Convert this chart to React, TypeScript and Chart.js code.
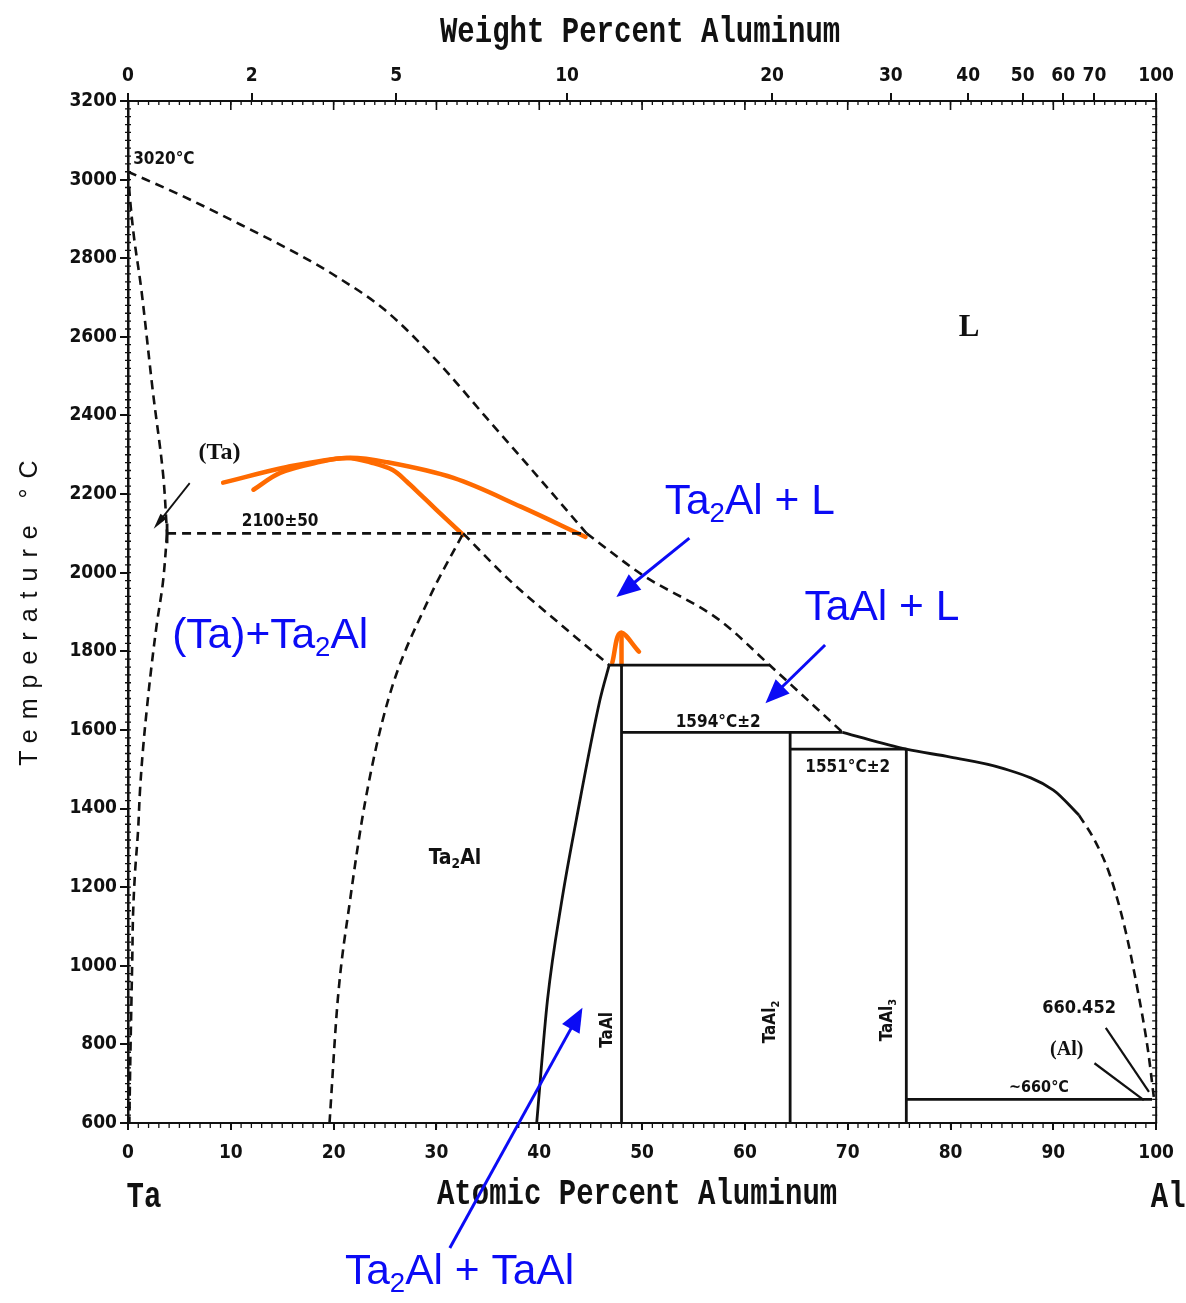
import React, { useEffect, useRef } from "react";
import { Chart, registerables } from "chart.js";

Chart.register(...registerables);

const CANVAS_W = 1186;
const CANVAS_H = 1303;

// ---- axes ----
const AT_MIN = 0;
const AT_MAX = 100;
const AT_STEP = 10;
const T_MIN = 600;
const T_MAX = 3200;
const T_STEP = 200;
const WT_TICKS = [0, 2, 5, 10, 20, 30, 40, 50, 60, 70, 100];
const M_AL = 26.98;
const M_TA = 180.95;
const wtToAt = (w: number) => {
  const nAl = w / M_AL;
  const nTa = (100 - w) / M_TA;
  return (100 * nAl) / (nAl + nTa);
};

type Pt = [number, number];

// ---- phase boundaries: [at.% Al, °C] ----
const TA_SOLIDUS: Pt[] = [[0, 3020], [0.2, 2950], [0.6, 2850], [1.3, 2720], [2.4, 2465], [3.4, 2254], [3.8, 2100]];
const TA_SOLVUS: Pt[] = [[3.8, 2100], [3.4, 1976], [2.8, 1869], [2.3, 1765], [1.85, 1658], [1.46, 1551], [1.17, 1447], [0.97, 1340], [0.68, 1236], [0.49, 1129], [0.42, 1025], [0.34, 918], [0.26, 811], [0.19, 706], [0.13, 600]];
const LIQUIDUS_HIGH: Pt[] = [[0, 3020], [5, 2962], [10, 2898], [16.7, 2808], [20, 2758], [25, 2668], [30, 2540], [35, 2390], [40, 2240], [44.6, 2100]];
const LIQUIDUS_MID: Pt[] = [[44.6, 2100], [50, 1995], [57.5, 1880], [62.4, 1765], [69.5, 1594]];
const LIQUIDUS_AL_SOLID: Pt[] = [[69.5, 1594], [75.7, 1551], [80, 1531], [85, 1503], [90, 1447], [92.5, 1383]];
const LIQUIDUS_AL_DASH: Pt[] = [[92.5, 1383], [94, 1320], [95.5, 1231], [97, 1091], [98.2, 938], [99.2, 786], [99.8, 660]];
const PERITECTIC_2100: Pt[] = [[3.8, 2100], [44.6, 2100]];
const TICK_2100: Pt[] = [[3.8, 2075], [3.8, 2125]];
const TA2AL_LEFT: Pt[] = [[19.6, 600], [20.4, 913], [21.6, 1167], [23.1, 1422], [25.3, 1676], [29.2, 1930], [32.6, 2100]];
const TA2AL_L_LOWER: Pt[] = [[32.6, 2100], [37.1, 1981], [42, 1870], [46.8, 1765]];
const TA2AL_RIGHT: Pt[] = [[39.75, 600], [40.8, 913], [42.2, 1167], [43.6, 1371], [45.9, 1676], [46.8, 1765]];
const PERITECTIC_1765: Pt[] = [[46.8, 1765], [62.4, 1765]];
const TAAL_LINE: Pt[] = [[48, 1765], [48, 600]];
const PERITECTIC_1594: Pt[] = [[48, 1594], [69.5, 1594]];
const TAAL2_LINE: Pt[] = [[64.4, 1594], [64.4, 600]];
const PERITECTIC_1551: Pt[] = [[64.4, 1551], [75.7, 1551]];
const TAAL3_LINE: Pt[] = [[75.7, 1551], [75.7, 600]];
const EUTECTIC_660: Pt[] = [[75.7, 660], [99.6, 660]];

// ---- orange overlay curves ----
const ORANGE_A: Pt[] = [[9.25, 2229], [15.47, 2269], [21.3, 2292], [25.2, 2281], [31.65, 2241], [38.2, 2168], [44.5, 2091]];
const ORANGE_B: Pt[] = [[12.2, 2211], [14.8, 2254], [18.7, 2282], [21.3, 2292], [23.8, 2279], [25.75, 2261], [27.1, 2232], [28.4, 2200], [30.0, 2160], [32.6, 2096]];
const ORANGE_STEM: Pt[] = [[48, 1766], [48, 1847]];
const ORANGE_HEAD: Pt[] = [[47.1, 1771], [47.9, 1847], [49.7, 1799]];

type Kind = "dash" | "solid" | "orange";
type Interp = "straight" | "tension" | "monotone";
const SERIES: { pts: Pt[]; kind: Kind; interp: Interp }[] = [
  { pts: TA_SOLIDUS, kind: "dash", interp: "tension" },
  { pts: TA_SOLVUS, kind: "dash", interp: "tension" },
  { pts: LIQUIDUS_HIGH, kind: "dash", interp: "monotone" },
  { pts: LIQUIDUS_MID, kind: "dash", interp: "monotone" },
  { pts: LIQUIDUS_AL_SOLID, kind: "solid", interp: "monotone" },
  { pts: LIQUIDUS_AL_DASH, kind: "dash", interp: "monotone" },
  { pts: PERITECTIC_2100, kind: "dash", interp: "straight" },
  { pts: TICK_2100, kind: "solid", interp: "straight" },
  { pts: TA2AL_LEFT, kind: "dash", interp: "monotone" },
  { pts: TA2AL_L_LOWER, kind: "dash", interp: "monotone" },
  { pts: TA2AL_RIGHT, kind: "solid", interp: "monotone" },
  { pts: PERITECTIC_1765, kind: "solid", interp: "straight" },
  { pts: TAAL_LINE, kind: "solid", interp: "straight" },
  { pts: PERITECTIC_1594, kind: "solid", interp: "straight" },
  { pts: TAAL2_LINE, kind: "solid", interp: "straight" },
  { pts: PERITECTIC_1551, kind: "solid", interp: "straight" },
  { pts: TAAL3_LINE, kind: "solid", interp: "straight" },
  { pts: EUTECTIC_660, kind: "solid", interp: "straight" },
  { pts: ORANGE_A, kind: "orange", interp: "tension" },
  { pts: ORANGE_B, kind: "orange", interp: "tension" },
  { pts: ORANGE_STEM, kind: "orange", interp: "straight" },
  { pts: ORANGE_HEAD, kind: "orange", interp: "tension" },
];

// ---- text labels (data coordinates) ----
type Part = [string, boolean?];
type Label = { parts: Part[]; at: number; t: number; size: number; font: string; align: "left" | "center"; rot?: boolean; color: string };

const BLACK = "#111";
const BLUE = "#0b0bf5";
const ORANGE = "#ff6a00";
const COND = '"DejaVu Sans Condensed", "DejaVu Sans", sans-serif';
const SERIF = '"Liberation Serif", "DejaVu Serif", serif';
const SANS = '"Liberation Sans", Arial, sans-serif';
const MONO = '"Liberation Mono", "DejaVu Sans Mono", monospace';

const LABELS: Label[] = [
  { parts: [["3020°C"]], at: 0.5, t: 3052, size: 17, font: COND, align: "left", color: BLACK },
  { parts: [["(Ta)"]], at: 8.9, t: 2305, size: 24, font: SERIF, align: "center", color: BLACK },
  { parts: [["2100±50"]], at: 14.8, t: 2129, size: 17, font: COND, align: "center", color: BLACK },
  { parts: [["Ta"], ["2", true], ["Al"]], at: 31.8, t: 1274, size: 21, font: COND, align: "center", color: BLACK },
  { parts: [["L"]], at: 81.8, t: 2622, size: 31, font: SERIF, align: "center", color: BLACK },
  { parts: [["1594°C±2"]], at: 57.4, t: 1618, size: 17, font: COND, align: "center", color: BLACK },
  { parts: [["1551°C±2"]], at: 70.0, t: 1503, size: 17, font: COND, align: "center", color: BLACK },
  { parts: [["TaAl"]], at: 46.6, t: 837, size: 17, font: COND, align: "center", rot: true, color: BLACK },
  { parts: [["TaAl"], ["2", true]], at: 62.5, t: 857, size: 17, font: COND, align: "center", rot: true, color: BLACK },
  { parts: [["TaAl"], ["3", true]], at: 73.9, t: 862, size: 17, font: COND, align: "center", rot: true, color: BLACK },
  { parts: [["660.452"]], at: 92.5, t: 893, size: 18, font: COND, align: "center", color: BLACK },
  { parts: [["(Al)"]], at: 91.3, t: 786, size: 20, font: SERIF, align: "center", color: BLACK },
  { parts: [["~660°C"]], at: 88.6, t: 689, size: 16, font: COND, align: "center", color: BLACK },
  { parts: [["Ta"], ["2", true], ["Al + L"]], at: 52.2, t: 2180, size: 42.5, font: SANS, align: "left", color: BLUE },
  { parts: [["TaAl + L"]], at: 65.8, t: 1910, size: 42.5, font: SANS, align: "left", color: BLUE },
  { parts: [["(Ta)+Ta"], ["2", true], ["Al"]], at: 4.3, t: 1839, size: 42.5, font: SANS, align: "left", color: BLUE },
  { parts: [["Ta"], ["2", true], ["Al + TaAl"]], at: 21.1, t: 221, size: 42.5, font: SANS, align: "left", color: BLUE },
];

type Arrow = { from: Pt; to: Pt; color: string; width: number; head: number; headW: number };
const ARROWS: Arrow[] = [
  { from: [6.0, 2228], to: [2.5, 2112], color: BLACK, width: 1.8, head: 16, headW: 4 },
  { from: [95.1, 842], to: [99.3, 679], color: BLACK, width: 2.2, head: 0, headW: 0 },
  { from: [94.0, 752], to: [98.8, 658], color: BLACK, width: 2.2, head: 0, headW: 0 },
  { from: [54.6, 2088], to: [47.5, 1938], color: BLUE, width: 3, head: 24, headW: 10 },
  { from: [67.8, 1816], to: [62.0, 1668], color: BLUE, width: 3, head: 24, headW: 10 },
  { from: [31.3, 282], to: [44.2, 893], color: BLUE, width: 3, head: 24, headW: 10 },
];

function drawRich(ctx: CanvasRenderingContext2D, parts: Part[], x: number, y: number, size: number, family: string, weight: string, color: string, align: string) {
  const sub = size * 0.65;
  const widths = parts.map(([t, s]) => {
    ctx.font = `${weight} ${s ? sub : size}px ${family}`;
    return ctx.measureText(t).width;
  });
  const total = widths.reduce((a, b) => a + b, 0);
  let cx = align === "left" ? x : x - total / 2;
  ctx.fillStyle = color;
  ctx.textAlign = "left";
  ctx.textBaseline = "middle";
  parts.forEach(([t, s], i) => {
    ctx.font = `${weight} ${s ? sub : size}px ${family}`;
    ctx.fillText(t, cx, s ? y + size * 0.3 : y);
    cx += widths[i];
  });
}

function drawArrow(ctx: CanvasRenderingContext2D, x1: number, y1: number, x2: number, y2: number, a: Arrow) {
  const ang = Math.atan2(y2 - y1, x2 - x1);
  ctx.save();
  ctx.strokeStyle = a.color;
  ctx.fillStyle = a.color;
  ctx.lineWidth = a.width;
  ctx.setLineDash([]);
  ctx.beginPath();
  ctx.moveTo(x1, y1);
  const ex = a.head ? x2 - Math.cos(ang) * a.head * 0.8 : x2;
  const ey = a.head ? y2 - Math.sin(ang) * a.head * 0.8 : y2;
  ctx.lineTo(ex, ey);
  ctx.stroke();
  if (a.head) {
    const bx = x2 - Math.cos(ang) * a.head;
    const by = y2 - Math.sin(ang) * a.head;
    ctx.beginPath();
    ctx.moveTo(x2, y2);
    ctx.lineTo(bx + Math.sin(ang) * a.headW, by - Math.cos(ang) * a.headW);
    ctx.lineTo(bx - Math.sin(ang) * a.headW, by + Math.cos(ang) * a.headW);
    ctx.closePath();
    ctx.fill();
  }
  ctx.restore();
}

function stretchedText(ctx: CanvasRenderingContext2D, s: string, x: number, y: number, font: string, sy: number) {
  ctx.save();
  ctx.translate(x, y);
  ctx.scale(1, sy);
  ctx.font = font;
  ctx.fillStyle = BLACK;
  ctx.textAlign = "center";
  ctx.textBaseline = "middle";
  ctx.fillText(s, 0, 0);
  ctx.restore();
}

const decorPlugin = {
  id: "decor",
  afterDraw(chart: any) {
    const { ctx, chartArea: a, scales } = chart;
    const X = (v: number) => scales.x.getPixelForValue(v);
    const Y = (v: number) => scales.y.getPixelForValue(v);
    ctx.save();
    // frame right side
    ctx.strokeStyle = BLACK;
    ctx.lineWidth = 2;
    ctx.beginPath();
    ctx.moveTo(a.right, a.top);
    ctx.lineTo(a.right, a.bottom);
    ctx.stroke();
    // minor ticks
    ctx.lineWidth = 1.3;
    ctx.beginPath();
    for (let t = T_MIN; t <= T_MAX; t += 20) {
      const y = Y(t);
      ctx.moveTo(a.left - 3, y);
      ctx.lineTo(a.left + 3, y);
      ctx.moveTo(a.right - 4, y);
      ctx.lineTo(a.right + 1, y);
    }
    for (let v = AT_MIN; v <= AT_MAX; v += 1) {
      const x = X(v);
      ctx.moveTo(x, a.bottom);
      ctx.lineTo(x, a.bottom + 5);
      ctx.moveTo(x, a.top);
      ctx.lineTo(x, a.top + 4);
    }
    ctx.stroke();
    ctx.lineWidth = 1.6;
    ctx.beginPath();
    for (let v = AT_STEP; v < AT_MAX; v += AT_STEP) {
      const x = X(v);
      ctx.moveTo(x, a.top);
      ctx.lineTo(x, a.top + 9);
    }
    ctx.stroke();

    // axis titles
    const midX = (a.left + a.right) / 2;
    stretchedText(ctx, "Weight Percent Aluminum", midX - 2, a.top - 68, `bold 29px ${MONO}`, 1.25);
    stretchedText(ctx, "Atomic Percent Aluminum", midX - 5, a.bottom + 72, `bold 29px ${MONO}`, 1.25);
    stretchedText(ctx, "Ta", a.left + 16, a.bottom + 75, `bold 29px ${MONO}`, 1.25);
    stretchedText(ctx, "Al", a.right + 12, a.bottom + 75, `bold 29px ${MONO}`, 1.25);

    ctx.save();
    ctx.translate(a.left - 98, (a.top + a.bottom) / 2 + 1);
    ctx.rotate(-Math.PI / 2);
    ctx.font = `25px ${SANS}`;
    (ctx as any).letterSpacing = "10px";
    ctx.fillStyle = BLACK;
    ctx.textAlign = "center";
    ctx.textBaseline = "middle";
    ctx.fillText("Temperature °C", 5, 0);
    ctx.restore();

    // labels
    for (const l of LABELS) {
      const px = X(l.at);
      const py = Y(l.t);
      const weight = l.color === BLUE ? "normal" : "bold";
      if (l.rot) {
        ctx.save();
        ctx.translate(px, py);
        ctx.rotate(-Math.PI / 2);
        drawRich(ctx, l.parts, 0, 0, l.size, l.font, weight, l.color, "center");
        ctx.restore();
      } else {
        drawRich(ctx, l.parts, px, py, l.size, l.font, weight, l.color, l.align);
      }
    }
    for (const ar of ARROWS) {
      drawArrow(ctx, X(ar.from[0]), Y(ar.from[1]), X(ar.to[0]), Y(ar.to[1]), ar);
    }
    ctx.restore();
  },
};

export default function App() {
  const ref = useRef<HTMLCanvasElement | null>(null);
  useEffect(() => {
    if (!ref.current) return;
    const tickFont = { family: COND, size: 19, weight: "bold" as const };
    const datasets = SERIES.map((s) => ({
      data: s.pts.map(([x, y]) => ({ x, y })),
      showLine: true,
      borderColor: s.kind === "orange" ? ORANGE : BLACK,
      borderWidth: s.kind === "orange" ? 4.5 : s.kind === "dash" ? 2.6 : 2.8,
      borderDash: s.kind === "dash" ? [9, 6] : [],
      borderCapStyle: s.kind === "orange" ? ("round" as const) : ("butt" as const),
      pointRadius: 0,
      pointHoverRadius: 0,
      tension: s.interp === "tension" ? 0.35 : 0,
      cubicInterpolationMode: s.interp === "monotone" ? ("monotone" as const) : ("default" as const),
      fill: false,
    }));
    const chart = new Chart(ref.current, {
      type: "scatter",
      data: { datasets },
      options: {
        animation: false,
        responsive: false,
        devicePixelRatio: 1,
        events: [],
        layout: { padding: { left: 0, top: 0, right: 29, bottom: 0 } },
        plugins: { legend: { display: false }, tooltip: { enabled: false }, title: { display: false } },
        scales: {
          x: {
            type: "linear",
            position: "bottom",
            min: AT_MIN,
            max: AT_MAX,
            ticks: { stepSize: AT_STEP, color: BLACK, font: tickFont, padding: 12, maxRotation: 0, autoSkip: false },
            grid: { display: true, drawOnChartArea: false, drawTicks: true, tickLength: 7, color: BLACK, lineWidth: 2 },
            border: { display: true, color: BLACK, width: 2 },
            afterFit: (s: any) => {
              s.height = 180;
            },
          },
          xTop: {
            type: "linear",
            position: "top",
            min: AT_MIN,
            max: AT_MAX,
            afterBuildTicks: (s: any) => {
              s.ticks = WT_TICKS.map((w) => ({ value: wtToAt(w) }));
            },
            ticks: {
              color: BLACK,
              font: tickFont,
              padding: 6,
              maxRotation: 0,
              autoSkip: false,
              callback: (_v: any, i: number) => String(WT_TICKS[i]),
            },
            grid: { display: true, drawOnChartArea: false, drawTicks: true, tickLength: 8, color: BLACK, lineWidth: 2 },
            border: { display: true, color: BLACK, width: 2 },
            afterFit: (s: any) => {
              s.height = 101;
            },
          },
          y: {
            type: "linear",
            position: "left",
            min: T_MIN,
            max: T_MAX,
            ticks: { stepSize: T_STEP, color: BLACK, font: tickFont, padding: 3, autoSkip: false, callback: (v: any) => String(v) },
            grid: { display: true, drawOnChartArea: false, drawTicks: true, tickLength: 8, color: BLACK, lineWidth: 2 },
            border: { display: true, color: BLACK, width: 2.5 },
            afterFit: (s: any) => {
              s.width = 128;
            },
          },
        },
      },
      plugins: [decorPlugin],
    } as any);
    return () => chart.destroy();
  }, []);
  return (
    <div style={{ position: "absolute", left: 0, top: 0, width: CANVAS_W, height: CANVAS_H, background: "#fff" }}>
      <canvas ref={ref} width={CANVAS_W} height={CANVAS_H} style={{ display: "block" }} />
    </div>
  );
}
